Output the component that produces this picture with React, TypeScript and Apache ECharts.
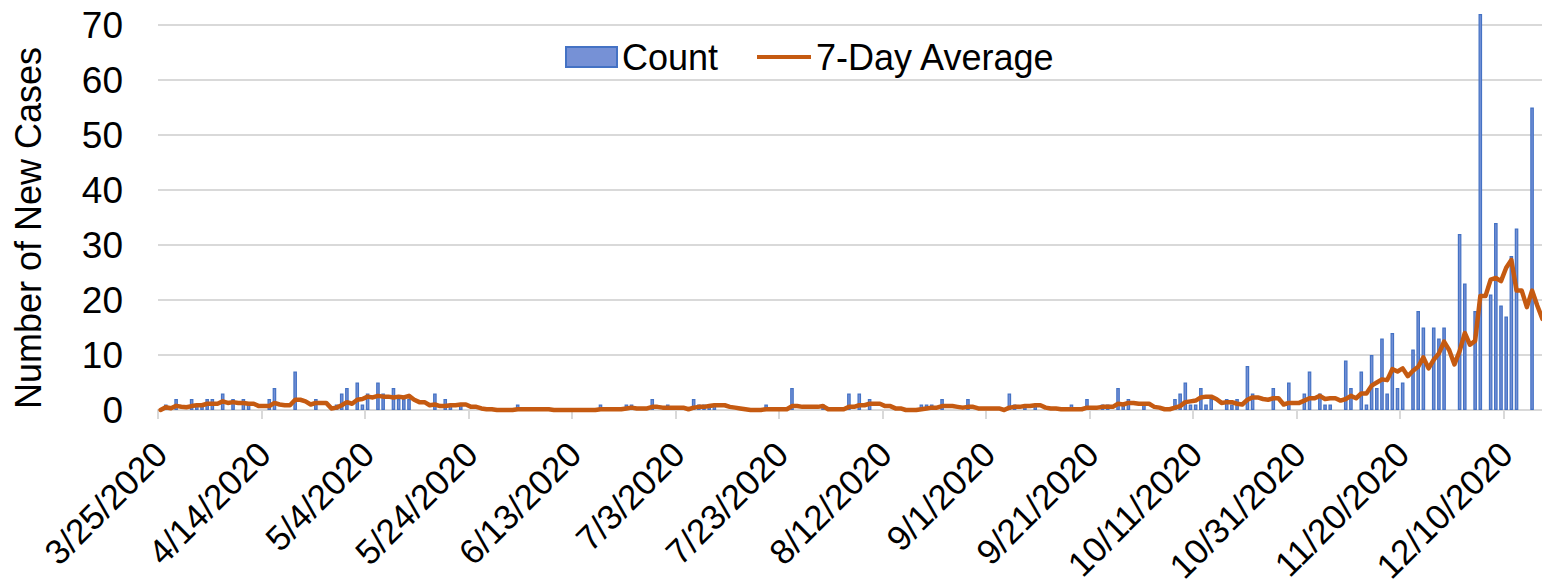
import React, { useEffect, useRef } from "react";
import * as echarts from "echarts";

const START_UTC = Date.UTC(2020, 2, 25);
const DAY_COUNT = 268;
const categories: string[] = Array.from({ length: DAY_COUNT }, (_, i) => {
  const d = new Date(START_UTC + i * 86400000);
  return `${d.getUTCMonth() + 1}/${d.getUTCDate()}/${d.getUTCFullYear()}`;
});

const counts: number[] = [
  0, 1, 0, 2, 0, 0, 2, 1, 1, 2,
  2, 0, 3, 0, 2, 0, 2, 1, 0, 0,
  0, 2, 4, 0, 0, 0, 7, 0, 0, 0,
  2, 0, 0, 0, 1, 3, 4, 0, 5, 1,
  3, 0, 5, 3, 0, 4, 2, 2, 2, 0,
  0, 0, 0, 3, 0, 2, 1, 0, 1, 0,
  0, 0, 0, 0, 0, 0, 0, 0, 0, 1,
  0, 0, 0, 0, 0, 0, 0, 0, 0, 0,
  0, 0, 0, 0, 0, 1, 0, 0, 0, 0,
  1, 1, 0, 0, 0, 2, 0, 0, 1, 0,
  0, 0, 0, 2, 1, 1, 1, 1, 0, 0,
  0, 0, 0, 0, 0, 0, 0, 1, 0, 0,
  0, 0, 4, 0, 0, 0, 0, 0, 1, 0,
  0, 0, 0, 3, 0, 3, 0, 2, 0, 0,
  0, 0, 0, 0, 0, 0, 0, 1, 1, 1,
  0, 2, 0, 0, 0, 0, 2, 0, 0, 0,
  0, 0, 0, 0, 3, 1, 0, 1, 0, 1,
  0, 0, 0, 0, 0, 0, 1, 0, 0, 2,
  0, 0, 1, 1, 0, 4, 1, 2, 0, 0,
  1, 0, 0, 0, 0, 0, 2, 3, 5, 1,
  1, 4, 1, 2, 0, 0, 2, 1, 2, 0,
  8, 3, 0, 0, 0, 4, 0, 0, 5, 0,
  0, 3, 7, 0, 3, 1, 1, 0, 0, 9,
  4, 0, 7, 1, 10, 4, 13, 3, 14, 4,
  5, 0, 11, 18, 15, 0, 15, 13, 15, 0,
  0, 32, 23, 0, 18, 72, 0, 21, 34, 19,
  17, 28, 33, 0, 0, 55, 0, 0,
];

const avg7: number[] = [
  0, 0.5, 0.33, 0.75, 0.6, 0.5, 0.71, 0.86, 0.86, 1.14,
  1.14, 1.14, 1.57, 1.29, 1.43, 1.29, 1.29, 1.14, 1.14, 0.71,
  0.71, 0.71, 1.29, 1, 0.86, 0.86, 1.86, 1.86, 1.57, 1,
  1.29, 1.29, 1.29, 0.29, 0.43, 0.86, 1.43, 1.14, 1.86, 2,
  2.43, 2.29, 2.57, 2.43, 2.43, 2.29, 2.43, 2.29, 2.57, 1.86,
  1.43, 1.43, 0.86, 1, 0.71, 0.71, 0.86, 0.86, 1, 1,
  0.57, 0.57, 0.29, 0.14, 0.14, 0, 0, 0, 0, 0.14,
  0.14, 0.14, 0.14, 0.14, 0.14, 0.14, 0, 0, 0, 0,
  0, 0, 0, 0, 0, 0.14, 0.14, 0.14, 0.14, 0.14,
  0.29, 0.43, 0.29, 0.29, 0.29, 0.57, 0.57, 0.43, 0.43, 0.43,
  0.43, 0.43, 0.14, 0.43, 0.57, 0.57, 0.71, 0.86, 0.86, 0.86,
  0.57, 0.43, 0.29, 0.14, 0, 0, 0, 0.14, 0.14, 0.14,
  0.14, 0.14, 0.71, 0.71, 0.57, 0.57, 0.57, 0.57, 0.71, 0.14,
  0.14, 0.14, 0.14, 0.57, 0.57, 0.86, 0.86, 1.14, 1.14, 1.14,
  0.71, 0.71, 0.29, 0.29, 0, 0, 0, 0.14, 0.29, 0.43,
  0.43, 0.71, 0.71, 0.71, 0.57, 0.43, 0.57, 0.57, 0.29, 0.29,
  0.29, 0.29, 0.29, 0, 0.43, 0.57, 0.57, 0.71, 0.71, 0.86,
  0.86, 0.43, 0.29, 0.29, 0.14, 0.14, 0.14, 0.14, 0.14, 0.43,
  0.43, 0.43, 0.57, 0.57, 0.57, 1.14, 1, 1.29, 1.29, 1.14,
  1.14, 1.14, 0.57, 0.43, 0.14, 0.14, 0.43, 0.71, 1.43, 1.57,
  1.71, 2.29, 2.43, 2.43, 2, 1.29, 1.43, 1.43, 1.14, 1,
  1.86, 2.29, 2.29, 2, 1.86, 2.14, 2.14, 1, 1.29, 1.29,
  1.29, 1.71, 2.14, 2.14, 2.57, 2, 2.14, 2.14, 1.71, 2,
  2.57, 2.14, 3, 3, 4.43, 5, 5.57, 5.43, 7.43, 7,
  7.57, 6.14, 7.14, 7.86, 9.57, 7.57, 9.14, 10.29, 12.43, 10.86,
  8.29, 10.71, 14, 11.86, 12.57, 20.71, 20.71, 23.71, 24, 23.43,
  25.86, 27.29, 21.71, 21.71, 18.71, 21.71, 19, 16.57,
];

const yTicks = { min: 0, max: 70, interval: 10 };
const LABEL_EVERY = 20;
const FONT = "'Liberation Sans', Arial, Helvetica, sans-serif";

export default function App() {
  const ref = useRef<HTMLDivElement>(null);

  useEffect(() => {
    if (!ref.current) return;
    const chart = echarts.init(ref.current, undefined, { renderer: "svg" });
    // zero-count days carry no bar in the reference
    const barData = counts.map((v) => (v === 0 ? "-" : v));
    chart.setOption({
      animation: false,
      backgroundColor: "#ffffff",
      textStyle: { fontFamily: FONT },
      legend: [
        {
          data: [{ name: "Count", icon: "rect" }],
          left: 560,
          top: 34,
          itemWidth: 51,
          itemHeight: 20,
          textStyle: { fontSize: 36, color: "#000000", fontFamily: FONT },
        },
        {
          data: [{ name: "7-Day Average", icon: "rect" }],
          left: 752,
          top: 34,
          itemWidth: 54,
          itemHeight: 4,
          textStyle: { fontSize: 36, color: "#000000", fontFamily: FONT },
        },
      ],
      grid: {
        left: 158,
        right: -3,
        top: 25,
        bottom: 175,
        containLabel: false,
        outerBoundsMode: "none",
      },
      xAxis: {
        type: "category",
        data: categories,
        boundaryGap: true,
        axisLine: { lineStyle: { color: "#d9d9d9", width: 2 } },
        axisTick: {
          show: true,
          length: 9,
          interval: (i: number) => i % LABEL_EVERY === 0,
          lineStyle: { color: "#d9d9d9", width: 2 },
        },
        axisLabel: {
          interval: (i: number) => i % LABEL_EVERY === 0,
          rotate: 45,
          margin: 38,
          fontSize: 35,
          color: "#000000",
          fontFamily: FONT,
        },
        splitLine: { show: false },
      },
      yAxis: {
        type: "value",
        min: yTicks.min,
        max: yTicks.max,
        interval: yTicks.interval,
        axisLine: { show: false },
        axisTick: { show: false },
        axisLabel: { fontSize: 37, color: "#000000", margin: 35, fontFamily: FONT },
        splitLine: { lineStyle: { color: "#d9d9d9", width: 2 } },
      },
      graphic: [
        {
          type: "text",
          x: 28,
          y: 228,
          rotation: Math.PI / 2,
          style: {
            text: "Number of New Cases",
            fontSize: 36,
            fontFamily: FONT,
            fill: "#000000",
            align: "center",
            verticalAlign: "middle",
          },
        },
      ],
      series: [
        {
          name: "Count",
          type: "bar",
          data: barData,
          barWidth: 3.6,
          clip: false,
          itemStyle: { color: "#7691d6", borderColor: "#4472c4", borderWidth: 1.2 },
        },
        {
          name: "7-Day Average",
          type: "line",
          data: avg7,
          symbol: "none",
          smooth: false,
          clip: false,
          lineStyle: { color: "#c55a11", width: 4.5, join: "round", cap: "round" },
          itemStyle: { color: "#c55a11" },
        },
      ],
    });
    return () => chart.dispose();
  }, []);

  return (
    <div
      ref={ref}
      style={{ position: "fixed", left: 0, top: 0, width: 1542, height: 585 }}
    />
  );
}
